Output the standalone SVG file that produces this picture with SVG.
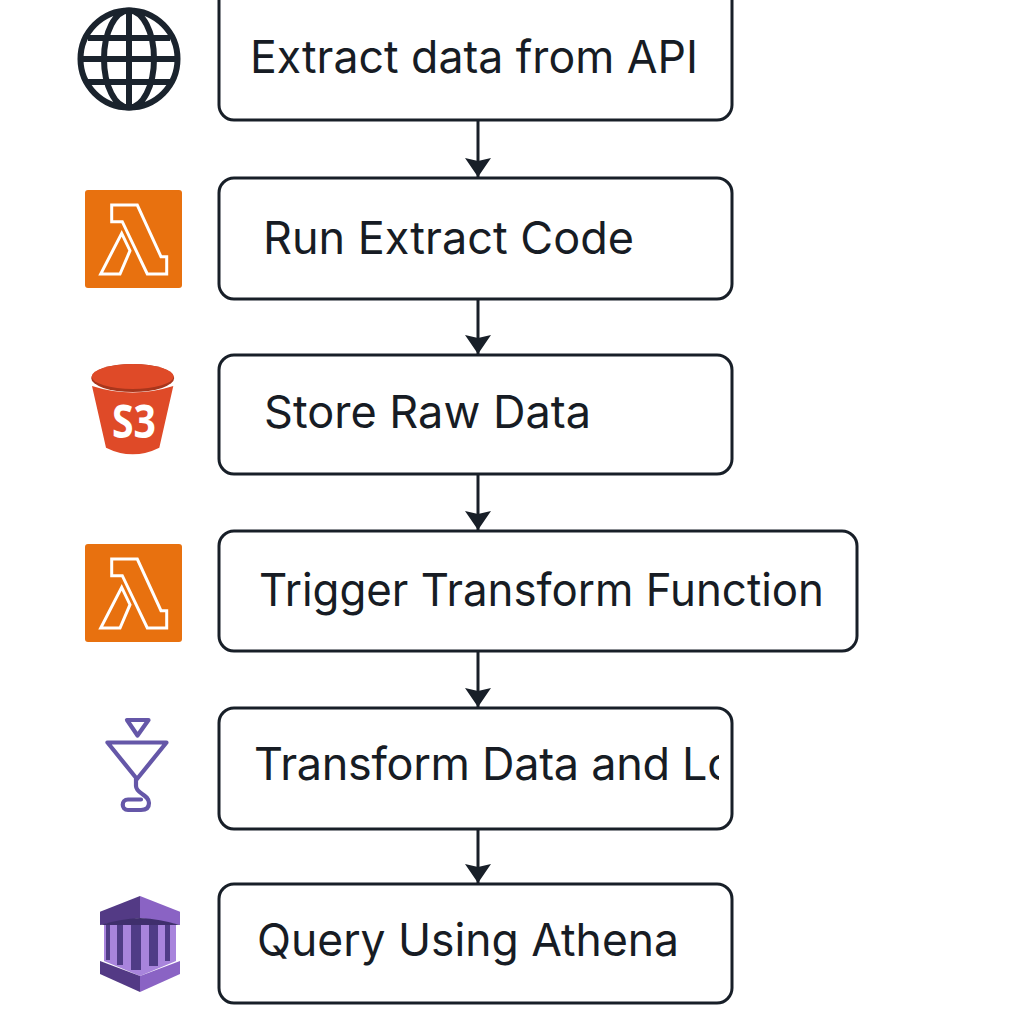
<svg xmlns="http://www.w3.org/2000/svg" xmlns:xlink="http://www.w3.org/1999/xlink" width="1024" height="1024" viewBox="0 0 1024 1024">
<style>
.box{fill:#fff;stroke:#181f28;stroke-width:3}
.lbl{font-family:"Inter","Liberation Sans",sans-serif;font-size:45px;fill:#171c24}
.edge{stroke:#181f28;stroke-width:3;fill:none;marker-end:url(#ah)}
.glb{fill:none;stroke:#1a232d;stroke-width:6}
.lam{fill:none;stroke:#fff;stroke-width:3;stroke-linejoin:miter}
.fun{fill:none;stroke:#6557a8;stroke-width:4.200;stroke-linejoin:round;stroke-linecap:round}
</style>
<defs>
<marker id="ah" markerUnits="userSpaceOnUse" markerWidth="26" markerHeight="28" refX="19" refY="14" orient="auto"><path d="M0 1 L19 14 L0 27 L3 14Z" fill="#181f28"/></marker>
<clipPath id="clip5"><rect x="222" y="710" width="497" height="116"/></clipPath>
<g id="lambda">
<rect x="85" y="190" width="97" height="98" rx="3" fill="#e8710f"/>
<path class="lam" d="M111.700 205H137.300L161 256.700H166.700V274H147.300L122.300 221.700H111.700Z"/>
<path class="lam" d="M121.700 233.300L130 250.700L120 274H100.700Z"/>
</g>
</defs>
<rect width="1024" height="1024" fill="#fff"/>
<g id="connectors">
<path class="edge" d="M478 121V177"/>
<path class="edge" d="M478 299V354"/>
<path class="edge" d="M478 474V530"/>
<path class="edge" d="M478 651V707"/>
<path class="edge" d="M478 829V883"/>
</g>
<g id="node-extract">
<rect class="box" x="219" y="-20" width="513" height="140" rx="15"/>
<text class="lbl" x="250" y="73" textLength="448" lengthAdjust="spacingAndGlyphs">Extract data from API</text>
<g id="icon-globe">
<circle class="glb" cx="129" cy="59" r="48.500"/>
<ellipse class="glb" cx="129" cy="59" rx="25" ry="48.500"/>
<path class="glb" d="M129 10.500V107.500M80.500 59H177.500M88 38H170M88 82H170"/>
</g>
</g>
<g id="node-run">
<rect class="box" x="219" y="178" width="513" height="121" rx="15"/>
<text class="lbl" x="263" y="254" textLength="371" lengthAdjust="spacingAndGlyphs">Run Extract Code</text>
<use xlink:href="#lambda" href="#lambda"/>
</g>
<g id="node-store">
<rect class="box" x="219" y="355" width="513" height="119" rx="15"/>
<text class="lbl" x="264" y="428" textLength="327" lengthAdjust="spacingAndGlyphs">Store Raw Data</text>
<g id="icon-s3">
<path d="M92 386Q132.700 399 173.300 386L159.300 447.700Q132.700 461 106 447.700Z" fill="#df4a28"/>
<ellipse cx="132.700" cy="378" rx="41.500" ry="14" fill="#a8361c"/>
<ellipse cx="132.700" cy="376.500" rx="41" ry="12.500" fill="#df4a28"/>
<text x="112" y="438" font-family="'Noto Sans',sans-serif" font-weight="700" font-size="46" fill="#fff" textLength="44" lengthAdjust="spacingAndGlyphs">S3</text>
</g>
</g>
<g id="node-trigger">
<rect class="box" x="219" y="531" width="638" height="120" rx="15"/>
<text class="lbl" x="259" y="606" textLength="565" lengthAdjust="spacingAndGlyphs">Trigger Transform Function</text>
<use xlink:href="#lambda" href="#lambda" y="354"/>
</g>
<g id="node-transform">
<rect class="box" x="219" y="708" width="513" height="121" rx="15"/>
<g clip-path="url(#clip5)"><text class="lbl" x="254" y="780" letter-spacing="-0.3">Transform Data and Lo</text></g>
<g id="icon-glue">
<path class="fun" d="M127 720H148.500L137.500 735.500Z"/>
<path class="fun" d="M107.500 742.500H166.500L137 779Z"/>
<path class="fun" d="M136 779V786C136 794 149 794 149 803C149 809 145 810 141 810H128C121 810 121 799.500 128 799.500H141"/>
</g>
</g>
<g id="node-query">
<rect class="box" x="219" y="884" width="513" height="119" rx="15"/>
<text class="lbl" x="257" y="956" textLength="422" lengthAdjust="spacingAndGlyphs">Query Using Athena</text>
<g id="icon-athena">
<path d="M104 924H176V961L140 976L104 961Z" fill="#a884dc"/>
<path d="M106 925h4v35h-4zM117 925h6v40h-6zM131 925h10v45h-10zM149 925h9v41h-9zM165 925h5v36h-5z" fill="#4f3c86"/>
<path d="M100 911.700L140 896V918L100 925Z" fill="#533a85"/>
<path d="M180 911.700L140 896V918L180 925Z" fill="#8a63c4"/>
<path d="M100 925Q120 919 140 918Q160 919 180 925Z" fill="#3f2f6c"/>
<path d="M100 961L140 976V992L100 974Z" fill="#533a85"/>
<path d="M180 961L140 976V992L180 974Z" fill="#8a63c4"/>
</g>
</g>
</svg>
